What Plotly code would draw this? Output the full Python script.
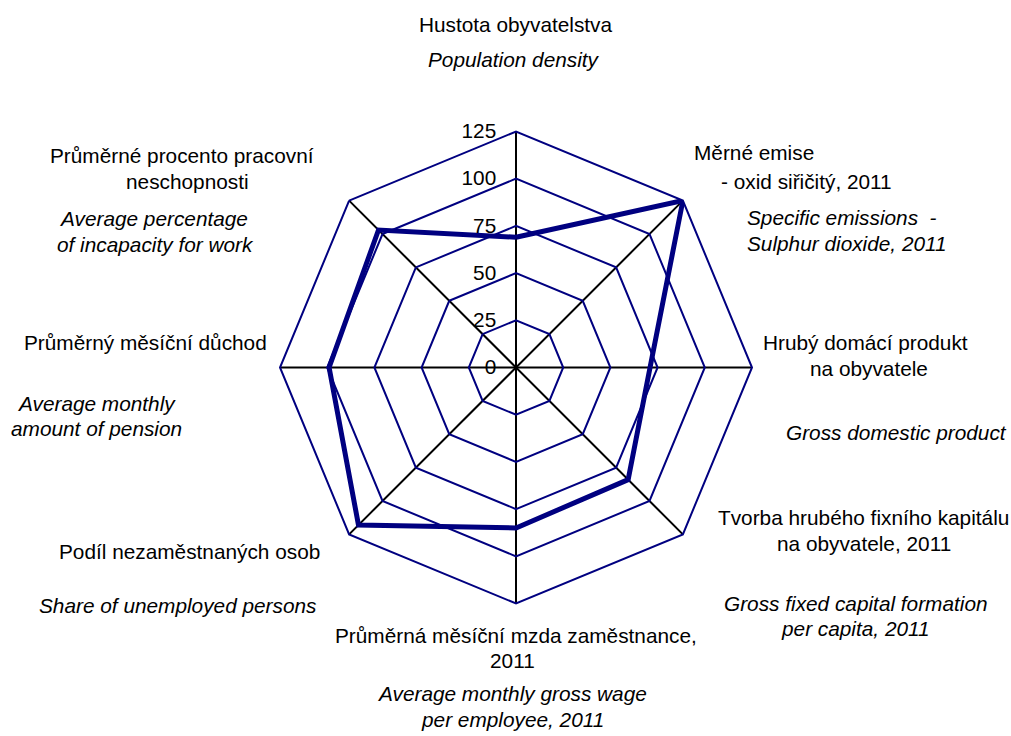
import plotly.graph_objects as go

categories = [
    "Hustota obyvatelstva",
    "Měrné emise - oxid siřičitý, 2011",
    "Hrubý domácí produkt na obyvatele",
    "Tvorba hrubého fixního kapitálu na obyvatele, 2011",
    "Průměrná měsíční mzda zaměstnance, 2011",
    "Podíl nezaměstnaných osob",
    "Průměrný měsíční důchod",
    "Průměrné procento pracovní neschopnosti",
]
values = [69, 125, 71, 84, 85, 118, 99, 103]
radial_ticks = [0, 25, 50, 75, 100, 125]

W, H = 1011, 736
cx, cy, R = 516, 367.5, 236
FS = 20.8

fig = go.Figure()
fig.add_trace(go.Scatterpolar(
    r=values + values[:1],
    theta=categories + categories[:1],
    mode="lines",
    line=dict(color="#000080", width=5),
    hoverinfo="skip",
    showlegend=False,
))

fig.update_layout(
    width=W, height=H,
    margin=dict(l=0, r=0, t=0, b=0),
    paper_bgcolor="white",
    plot_bgcolor="white",
    font=dict(family="Liberation Sans, Arial, sans-serif", size=FS, color="black"),
    polar=dict(
        domain=dict(x=[(cx - R) / W, (cx + R) / W],
                    y=[(H - cy - R) / H, (H - cy + R) / H]),
        bgcolor="white",
        gridshape="linear",
        radialaxis=dict(
            range=[0, 125],
            tickvals=radial_ticks,
            ticktext=[str(t) for t in radial_ticks],
            angle=90,
            tickangle=90,
            side="counterclockwise",
            showline=False,
            ticks="outside",
            ticklen=12,
            tickcolor="rgba(0,0,0,0)",
            gridcolor="#000080",
            gridwidth=2,
            tickfont=dict(size=FS, color="black"),
        ),
        angularaxis=dict(
            direction="clockwise",
            rotation=90,
            showticklabels=False,
            ticks="",
            gridcolor="black",
            gridwidth=2,
            showline=True,
            linecolor="#000080",
            linewidth=2,
        ),
    ),
)

def px(x):
    return x / W

def py(y):
    return 1 - y / H

labels = [
    # (text, x, y, xanchor, italic)  -- pixel coordinates
    ("Hustota obyvatelstva", 515, 24, "center", False),
    ("Population density", 514, 59, "center", True),
    ("Průměrné procento pracovní", 182, 155, "center", False),
    ("neschopnosti", 187, 182, "center", False),
    ("Average percentage", 153, 218, "center", True),
    ("of incapacity for work", 155, 245, "center", True),
    ("Měrné emise", 692, 153, "left", False),
    ("- oxid siřičitý, 2011", 719, 182, "left", False),
    ("Specific emissions  -", 745, 217, "left", True),
    ("Sulphur dioxide, 2011", 745, 243, "left", True),
    ("Průměrný měsíční důchod", 145, 342, "center", False),
    ("Average monthly", 96, 403, "center", True),
    ("amount of pension", 96, 428, "center", True),
    ("Hrubý domácí produkt", 865, 342, "center", False),
    ("na obyvatele", 869, 368, "center", False),
    ("Gross domestic product", 896, 432, "center", True),
    ("Tvorba hrubého fixního kapitálu", 863, 517, "center", False),
    ("na obyvatele, 2011", 864, 543, "center", False),
    ("Gross fixed capital formation", 856, 603, "center", True),
    ("per capita, 2011", 855, 628, "center", True),
    ("Průměrná měsíční mzda zaměstnance,", 516, 635, "center", False),
    ("2011", 512, 660, "center", False),
    ("Average monthly gross wage", 512, 693, "center", True),
    ("per employee, 2011", 512, 719, "center", True),
    ("Podíl nezaměstnaných osob", 189, 551, "center", False),
    ("Share of unemployed persons", 177, 605, "center", True),
]

for text, x, y, xa, it in labels:
    fig.add_annotation(
        x=px(x), y=py(y), xref="paper", yref="paper",
        text=f"<i>{text}</i>" if it else text,
        showarrow=False, xanchor=xa, yanchor="middle",
        font=dict(size=FS, color="black"),
    )

fig.write_html(
    "out.html",
    config={"displayModeBar": False},
    post_script="document.body.style.margin='0';document.body.style.overflow='hidden';",
)
